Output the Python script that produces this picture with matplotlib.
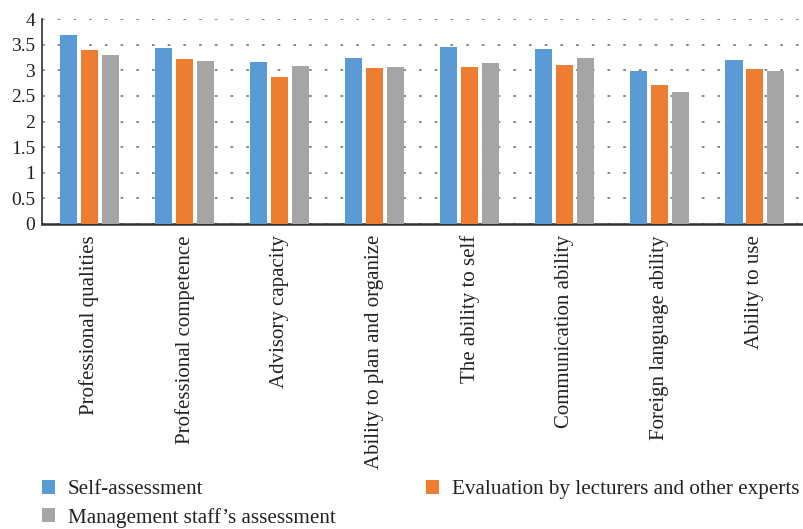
import numpy as np
import matplotlib.pyplot as plt

categories = ["Professional qualities", "Professional competence", "Advisory capacity",
              "Ability to plan and organize", "The ability to self", "Communication ability",
              "Foreign language ability", "Ability to use"]
self_assessment = [3.69, 3.43, 3.16, 3.24, 3.45, 3.41, 2.99, 3.20]
lecturers = [3.40, 3.22, 2.87, 3.04, 3.06, 3.10, 2.71, 3.02]
management = [3.30, 3.18, 3.08, 3.06, 3.14, 3.24, 2.58, 2.99]

plt.rcParams['font.family'] = ['Liberation Serif', 'DejaVu Serif']

fig = plt.figure(figsize=(8.04, 5.29), dpi=100)
ax = fig.add_axes([42/804, 1 - 224/529, 1 - 42/804 - 0.002, 205/529])

x = np.arange(len(categories))
w = 0.18
step = 0.22
b1 = ax.bar(x - step, self_assessment, w, color="#5B9BD5", zorder=3)
b2 = ax.bar(x, lecturers, w, color="#ED7D31", zorder=3)
b3 = ax.bar(x + step, management, w, color="#A5A5A5", zorder=3)

ax.set_xlim(-0.5, len(categories) - 0.5)
ax.set_ylim(0, 4)
ax.set_yticks(np.arange(0, 4.01, 0.5))
ax.set_yticklabels(["0", "0.5", "1", "1.5", "2", "2.5", "3", "3.5", "4"])
ax.set_xticks(x)
ax.set_xticklabels(categories, rotation=90, va="top", ha="center")
ax.tick_params(axis="both", length=0, colors="#222222")
ax.tick_params(axis="x", pad=8, labelsize=15)
ax.tick_params(axis="y", pad=5, labelsize=14)

ax.yaxis.grid(True, color="#808080", linestyle=(0, (1.5, 7.2)), linewidth=1.3, zorder=0)
ax.set_axisbelow(True)
for s in ["top", "right"]:
    ax.spines[s].set_visible(False)
ax.spines["left"].set_color("#404040")
ax.spines["left"].set_linewidth(1.3)
ax.spines["bottom"].set_color("#333333")
ax.spines["bottom"].set_linewidth(1.8)

leg_kw = dict(frameon=False, fontsize=15.2, handlelength=0.62, handleheight=0.62,
              handletextpad=0.6, labelspacing=0.4, borderpad=0, borderaxespad=0,
              labelcolor="#222222")
fig.legend([b1, b3], ["Self-assessment", "Management staff’s assessment"],
           loc="upper left", bbox_to_anchor=(42/804, 1 - 480/529), **leg_kw)
fig.legend([b2], ["Evaluation by lecturers and other experts"],
           loc="upper left", bbox_to_anchor=(426/804, 1 - 480/529), **leg_kw)

fig.savefig("out.png", dpi=100)
